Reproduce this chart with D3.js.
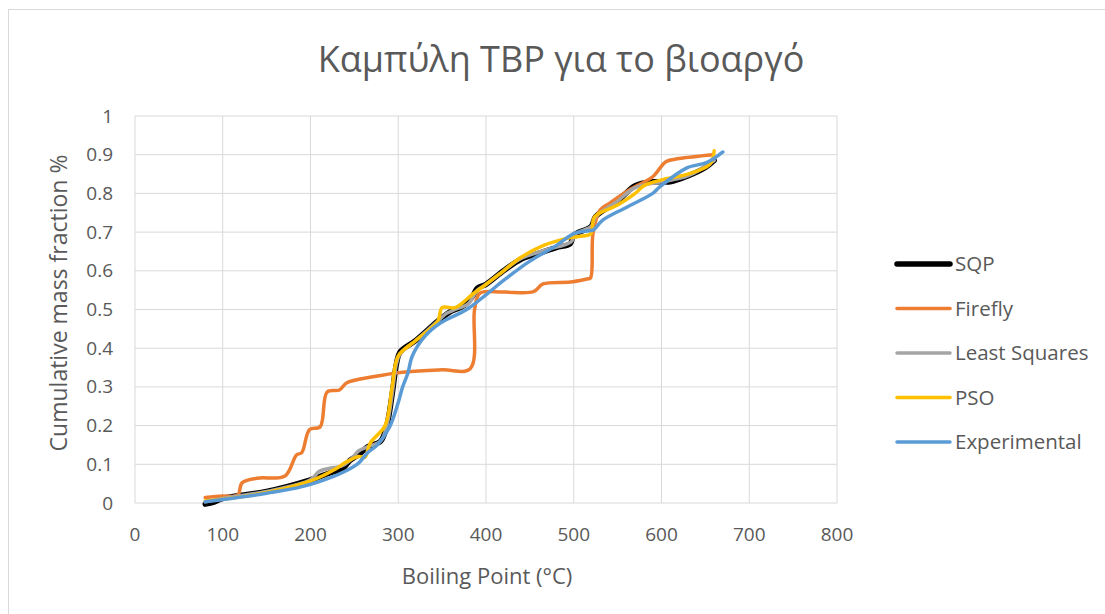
<!DOCTYPE html>
<html>
<head>
<meta charset="utf-8">
<script src="https://d3js.org/d3.v7.min.js"></script>
<style>
  body { margin: 0; background: #fff; }
  text { font-family: "Open Sans", "Noto Sans", sans-serif; fill: #595959; }
</style>
</head>
<body>
<script>
// series: [boiling point, cumulative fraction]
var sqp = [[80,-0.003],[90,0.002],[100,0.012],[150,0.03],[200,0.06],[225,0.08],[235,0.085],[245,0.11],[255,0.125],[265,0.145],[280,0.16],[287,0.2],[293,0.28],[298,0.36],[302,0.39],[320,0.42],[345,0.47],[360,0.495],[375,0.51],[385,0.535],[390,0.555],[400,0.565],[420,0.6],[440,0.63],[460,0.645],[480,0.66],[496,0.67],[500,0.692],[520,0.715],[525,0.74],[550,0.78],[570,0.82],[590,0.83],[610,0.83],[630,0.845],[650,0.867],[660,0.885]];
var firefly = [[80,0.014],[100,0.018],[117,0.02],[122,0.052],[139,0.064],[171,0.07],[184,0.124],[190,0.13],[199,0.19],[211,0.197],[219,0.287],[233,0.292],[241,0.31],[271,0.326],[305,0.338],[350,0.344],[382,0.347],[387,0.5],[393,0.542],[420,0.545],[454,0.546],[465,0.566],[496,0.571],[515,0.579],[519,0.581],[522,0.697],[530,0.757],[541,0.775],[564,0.81],[590,0.843],[605,0.882],[620,0.89],[659,0.9]];
var leastSq = [[80,0.003],[100,0.012],[150,0.03],[200,0.06],[210,0.082],[222,0.09],[235,0.095],[245,0.11],[255,0.135],[265,0.145],[280,0.16],[287,0.2],[293,0.28],[298,0.36],[302,0.385],[320,0.42],[345,0.47],[355,0.49],[365,0.5],[380,0.515],[390,0.55],[400,0.565],[420,0.6],[440,0.632],[470,0.655],[497,0.675],[502,0.695],[520,0.715],[525,0.74],[550,0.78],[570,0.815],[600,0.83],[630,0.845],[660,0.885]];
var pso = [[80,0.005],[100,0.01],[150,0.027],[200,0.057],[230,0.09],[240,0.105],[255,0.12],[262,0.118],[268,0.155],[285,0.2],[293,0.3],[300,0.38],[320,0.42],[345,0.47],[350,0.505],[365,0.505],[385,0.54],[400,0.565],[420,0.6],[440,0.635],[465,0.665],[495,0.685],[510,0.69],[519,0.695],[524,0.74],[550,0.77],[570,0.8],[580,0.82],[600,0.835],[630,0.85],[655,0.875],[660,0.91]];
var experimental = [[80,0.003],[100,0.009],[150,0.025],[200,0.048],[253,0.1],[265,0.13],[276,0.15],[290,0.196],[300,0.26],[305,0.3],[311,0.336],[316,0.38],[330,0.43],[348,0.465],[378,0.5],[401,0.54],[420,0.575],[450,0.625],[480,0.665],[499,0.695],[515,0.703],[522,0.705],[533,0.731],[561,0.765],[590,0.8],[598,0.817],[629,0.866],[652,0.88],[670,0.907]];

var seriesNames = ["SQP", "Firefly", "Least Squares", "PSO", "Experimental"];
var seriesData = [sqp, firefly, leastSq, pso, experimental];
var colors = ["#000000", "#ED7D31", "#A5A5A5", "#FFC000", "#5B9BD5"];
var widths = [5.5, 3.5, 3.5, 3.5, 3.5];
var xTicks = [0,100,200,300,400,500,600,700,800];
var yTicks = [0,0.1,0.2,0.3,0.4,0.5,0.6,0.7,0.8,0.9,1];

var W = 1105, H = 614;
var svg = d3.select("body").append("svg").attr("width", W).attr("height", H);

// chart border
svg.append("rect").attr("x", 8.5).attr("y", 9.5).attr("width", W + 10).attr("height", H + 10)
  .attr("fill", "#fff").attr("stroke", "#d9d9d9").attr("stroke-width", 1);

var x = d3.scaleLinear().domain([0, 800]).range([135, 837]);
var y = d3.scaleLinear().domain([0, 1]).range([503, 116]);

// grid
svg.append("g").selectAll("line.h").data(yTicks).enter().append("line")
  .attr("x1", x(0)).attr("x2", x(800)).attr("y1", d => y(d)).attr("y2", d => y(d))
  .attr("stroke", "#d9d9d9").attr("stroke-width", 1);
svg.append("g").selectAll("line.v").data(xTicks).enter().append("line")
  .attr("y1", y(0)).attr("y2", y(1)).attr("x1", d => x(d)).attr("x2", d => x(d))
  .attr("stroke", "#d9d9d9").attr("stroke-width", 1);

// tick labels
svg.append("g").selectAll("text").data(yTicks).enter().append("text")
  .attr("x", 113).attr("y", d => y(d) + 6.5).attr("text-anchor", "end")
  .attr("font-size", 19).text(d => d);
svg.append("g").selectAll("text").data(xTicks).enter().append("text")
  .attr("x", d => x(d)).attr("y", 541).attr("text-anchor", "middle")
  .attr("font-size", 19).text(d => d);

// titles
svg.append("text").attr("x", 561).attr("y", 72).attr("text-anchor", "middle")
  .attr("font-size", 36).text("Καμπύλη TBP για το βιοαργό");
svg.append("text").attr("x", 487).attr("y", 584).attr("text-anchor", "middle")
  .attr("font-size", 22).text("Boiling Point (°C)");
svg.append("text").attr("transform", "translate(67,303) rotate(-90)").attr("text-anchor", "middle")
  .attr("font-size", 23).text("Cumulative mass fraction %");

// lines
var line = d3.line().x(d => x(d[0])).y(d => y(d[1])).curve(d3.curveCatmullRom.alpha(0.5));
seriesData.forEach(function(s, i) {
  svg.append("path").datum(s).attr("d", line).attr("fill", "none")
    .attr("stroke", colors[i]).attr("stroke-width", widths[i])
    .attr("stroke-linejoin", "round").attr("stroke-linecap", "round");
});

// legend
var leg = svg.append("g").selectAll("g").data(seriesNames).enter().append("g")
  .attr("transform", (d, i) => "translate(897," + (264 + i * 44.5) + ")");
leg.append("line").attr("x1", 0).attr("x2", 53).attr("y1", 0).attr("y2", 0)
  .attr("stroke", (d, i) => colors[i]).attr("stroke-width", (d, i) => widths[i])
  .attr("stroke-linecap", "round");
leg.append("text").attr("x", 58).attr("y", 7).attr("font-size", 20.5).text(d => d);
</script>
</body>
</html>
